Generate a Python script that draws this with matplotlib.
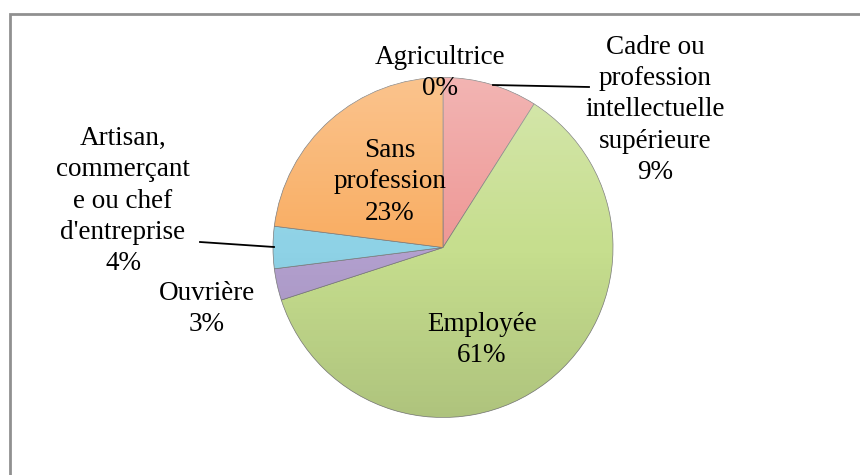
import numpy as np
import matplotlib.pyplot as plt
from matplotlib.patches import Rectangle, Circle

# Data
categories = ["Agricultrice", "Cadre ou\nprofession\nintellectuelle\nsupérieure",
              "Employée", "Ouvrière", "Artisan,\ncommerçant\ne ou chef\nd'entreprise",
              "Sans\nprofession"]
shares = [0, 9, 61, 3, 4, 23]
colors = ["#9bbb59", "#ee9896", "#c6de8e", "#b3a0cf", "#8ed2e6", "#f9ad62"]

# label positions in pixel coords (x, y from top), plus leader lines
label_pos = [(440, 73), (655, 110), (482, 340), (207, 309), (123, 201), (390, 182)]
leaders = {1: [(493, 85), (589, 87)], 4: [(274, 247), (200, 242)]}

W, H = 860, 475
fig = plt.figure(figsize=(W / 100, H / 100), dpi=100)
ax = fig.add_axes([0, 0, 1, 1])

cx, cy, r = 443, H - 247.5, 170
wedges, _ = ax.pie(shares, colors=colors, startangle=90, counterclock=False,
                   center=(cx, cy), radius=r, frame=True,
                   wedgeprops=dict(edgecolor="#7a7a7a", linewidth=0.5))

# soft light-to-dark shading over the pie
g = np.linspace(0, 1, 256)
shade = np.zeros((256, 1, 4))
top = g < 0.5
shade[top, 0, :3] = 1.0
shade[:, 0, 3] = np.where(top, 0.28 * (1 - g / 0.5), 0.12 * (g - 0.5) / 0.5)
img = ax.imshow(shade, extent=(cx - r, cx + r, cy - r, cy + r), origin="upper",
                aspect="auto", interpolation="bilinear", zorder=2)
img.set_clip_path(Circle((cx, cy), r, transform=ax.transData))

ax.set_xlim(0, W)
ax.set_ylim(0, H)
ax.axis('off')

# chart border (runs off right and bottom)
ax.add_patch(Rectangle((10, -5), W, H - 14 + 5, fill=False,
                       edgecolor="#909090", linewidth=2, clip_on=False))

font = dict(family="Liberation Serif", fontsize=19.5, color="black")
for i, (cat, val) in enumerate(zip(categories, shares)):
    x, y = label_pos[i]
    ax.text(x, H - y, f"{cat}\n{val}%", ha="center", va="center",
            linespacing=1.34, zorder=5, **font)

for pts in leaders.values():
    ax.plot([p[0] for p in pts], [H - p[1] for p in pts], color="black", lw=1.3,
            zorder=5)

fig.savefig("out.png", dpi=100)
